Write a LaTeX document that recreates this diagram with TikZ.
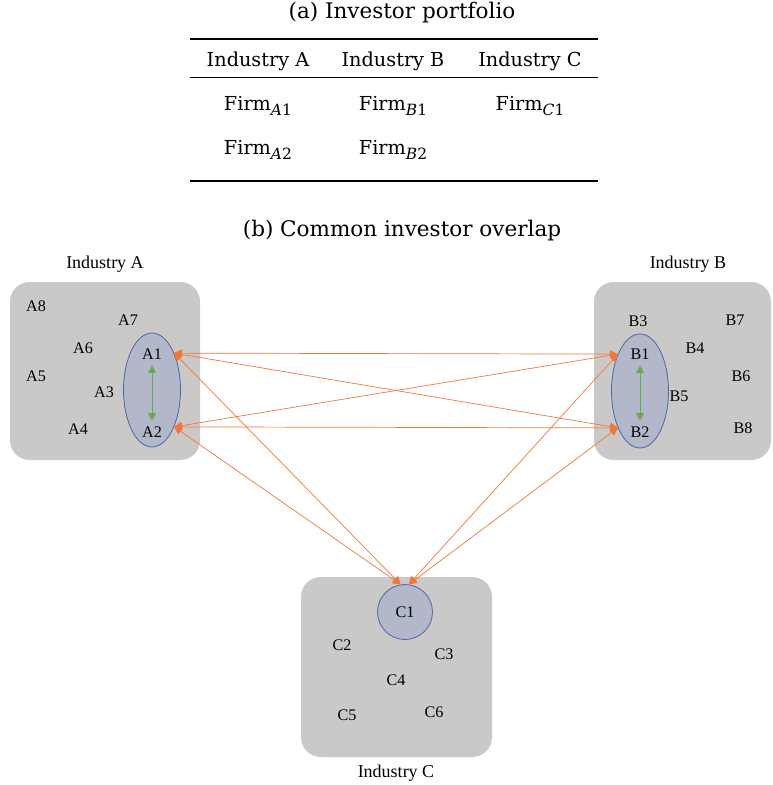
\documentclass[tikz,border=0pt]{standalone}
\usepackage{fontspec}
\setmainfont{Liberation Serif}
\newfontfamily\tabfont{DejaVu Serif}
\usetikzlibrary{arrows.meta, shapes.geometric}

\definecolor{boxgray}{HTML}{CBC9C7}
\definecolor{firmfill}{HTML}{B2B8C9}
\definecolor{firmline}{HTML}{4B6CA8}
\definecolor{linkorange}{HTML}{F0773A}
\definecolor{pairgreen}{HTML}{6AA84F}

\newcommand{\firmsub}[2]{Firm\raisebox{-0.45ex}{\fontsize{11}{12}\selectfont\itshape #1\upshape #2}}

\begin{document}
\begin{tikzpicture}[x=0.025cm, y=-0.025cm, >={Triangle[length=5.5pt, width=5.5pt]}]
        \tikzstyle{industry}=[rounded corners=14pt, fill=boxgray, draw=none]
        \tikzstyle{firm}=[font=\fontsize{11.5}{12}\selectfont, inner sep=1pt]
        \tikzstyle{group}=[font=\fontsize{12.8}{14}\selectfont, inner sep=1pt]
        \tikzstyle{held}=[ellipse, draw=firmline, fill=firmfill, line width=0.6pt, minimum width=57*0.025cm, minimum height=114*0.025cm, inner sep=0pt]
        \tikzstyle{cell}=[font=\tabfont\fontsize{13.7}{15}\selectfont, inner sep=0pt]
        \tikzstyle{caption}=[font=\tabfont\fontsize{15.3}{17}\selectfont, inner sep=0pt]
        \tikzstyle{link}=[<->, linkorange, line width=0.5pt]
        \tikzstyle{pair}=[<->, pairgreen, line width=0.7pt, shorten <=3pt, shorten >=3pt]
        \useasboundingbox (0,0) rectangle (772,785);

        % (a) table
        \node[caption] (titleA) at (402,13) {(a) Investor portfolio};
        \draw[line width=1.6pt] (190,39) -- (598,39);
        \node[cell] (hA) at (258,61) {Industry A};
        \node[cell] (hB) at (393,61) {Industry B};
        \node[cell] (hC) at (530,61) {Industry C};
        \draw[line width=0.6pt] (190,77) -- (598,77);
        \node[cell] (fA1) at (258,106) {\firmsub{A}{1}};
        \node[cell] (fB1) at (393,106) {\firmsub{B}{1}};
        \node[cell] (fC1) at (530,106) {\firmsub{C}{1}};
        \node[cell] (fA2) at (258,150) {\firmsub{A}{2}};
        \node[cell] (fB2) at (393,150) {\firmsub{B}{2}};
        \draw[line width=1.6pt] (190,181) -- (598,181);

        % (b) diagram
        \node[caption] (titleB) at (402,231) {(b) Common investor overlap};

        \fill[industry] (10,282) rectangle (200,460);
        \fill[industry] (594,282) rectangle (771,460);
        \fill[industry] (301,577) rectangle (492,757);
        \node[group] (indA) at (105,264) {Industry A};
        \node[group] (indB) at (688,264) {Industry B};
        \node[group] (indC) at (396,773) {Industry C};

        \node[held] (ellA) at (152,390) {};
        \node[held] (ellB) at (640,391) {};
        \node[held, circle, minimum size=55*0.025cm] (C1) at (405,612) {};

        \node[firm] (A1) at (152,354) {A1};
        \node[firm] (A2) at (152,432) {A2};
        \node[firm] (A3) at (104,392) {A3};
        \node[firm] (A4) at (78,429) {A4};
        \node[firm] (A5) at (36,376) {A5};
        \node[firm] (A6) at (83,348) {A6};
        \node[firm] (A7) at (128,320) {A7};
        \node[firm] (A8) at (36,306) {A8};

        \node[firm] (B1) at (640,354) {B1};
        \node[firm] (B2) at (640,432) {B2};
        \node[firm] (B3) at (638,321) {B3};
        \node[firm] (B4) at (695,348) {B4};
        \node[firm] (B5) at (679,396) {B5};
        \node[firm] (B6) at (741,376) {B6};
        \node[firm] (B7) at (735,320) {B7};
        \node[firm] (B8) at (743,428) {B8};

        \node[firm] (C1t) at (405,612) {C1};
        \node[firm] (C2) at (342,645) {C2};
        \node[firm] (C3) at (444,654) {C3};
        \node[firm] (C4) at (396,680) {C4};
        \node[firm] (C5) at (347,715) {C5};
        \node[firm] (C6) at (434,712) {C6};

        \draw[pair] (A1) -- (A2);
        \draw[pair] (B1) -- (B2);

        \draw[link] (ellA.59) -- (ellB.121);
        \draw[link] (ellA.59) -- (ellB.-121);
        \draw[link] (ellA.-59) -- (ellB.121);
        \draw[link] (ellA.-59) -- (ellB.-121);
        \draw[link] (ellA.59) -- (C1.99);
        \draw[link] (ellA.-59) -- (C1.99);
        \draw[link] (ellB.121) -- (C1.82);
        \draw[link] (ellB.-121) -- (C1.82);
    \end{tikzpicture}
\end{document}
